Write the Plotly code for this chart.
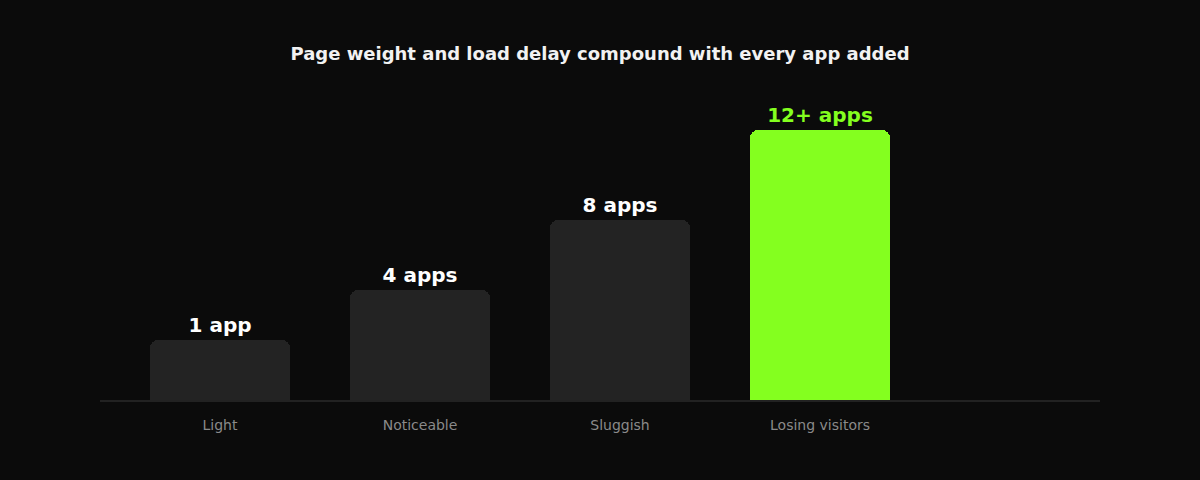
import plotly.graph_objects as go

# categories and values
stages = ["Light", "Noticeable", "Sluggish", "Losing visitors"]
app_labels = ["1 app", "4 apps", "8 apps", "12+ apps"]
load_delay = [60, 110, 180, 270]

bg = "#0b0b0b"
dark_bar = "#232323"
green = "#84ff1f"

bar_colors = [dark_bar, dark_bar, dark_bar, green]
text_colors = ["#ffffff", "#ffffff", "#ffffff", green]

xpos = list(range(len(stages)))

fig = go.Figure()
fig.add_trace(go.Bar(
    x=xpos, y=load_delay,
    width=0.7,
    marker=dict(color=bar_colors, cornerradius=8, line_width=0),
    text=app_labels,
    textposition="outside",
    textfont=dict(family="DejaVu Sans", size=20, color=text_colors, weight="bold"),
    cliponaxis=False,
    hoverinfo="skip",
))

fig.update_layout(
    width=1200, height=480,
    paper_bgcolor=bg, plot_bgcolor=bg,
    margin=dict(l=100, r=100, t=100, b=80),
    title=dict(text="<b>Page weight and load delay compound with every app added</b>",
               x=0.5, xanchor="center", y=1 - 54 / 480, yanchor="middle",
               font=dict(family="DejaVu Sans", size=18, color="#f2f2f2")),
    showlegend=False,
    bargap=0,
)
fig.update_xaxes(range=[-0.6, 4.4], tickvals=xpos, ticktext=stages,
                 showgrid=False, zeroline=False, showline=True,
                 linecolor="#222222", linewidth=2,
                 ticks="outside", ticklen=11, tickcolor="rgba(0,0,0,0)",
                 tickfont=dict(family="DejaVu Sans", size=14, color="#8a8a8a"))
fig.update_yaxes(range=[0, 300], visible=False)

# drop the page's default body margin so the figure sits at 0,0
fig.write_html("out.html", config={"displayModeBar": False},
               post_script="document.body.style.margin='0';document.body.style.background='#0b0b0b';")
